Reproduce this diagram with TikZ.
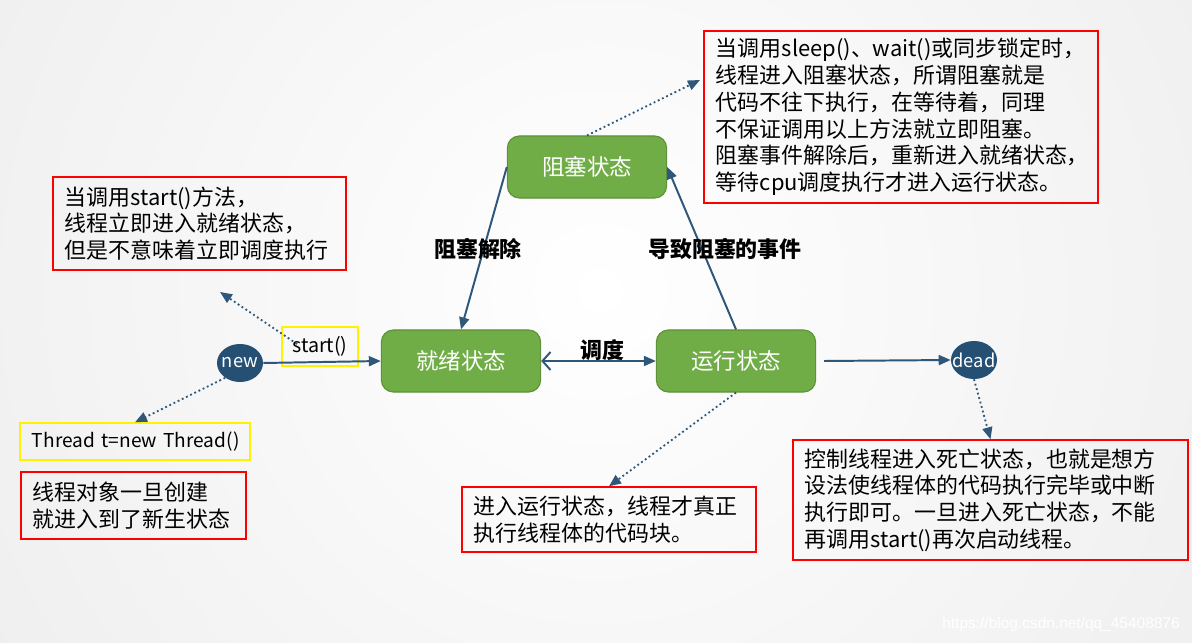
\documentclass[tikz,border=0pt]{standalone}
\usepackage{fontspec}
\setmainfont{Noto Sans CJK SC}
\newfontfamily\wmfont{Liberation Sans}
\usepackage{tikz}
\usetikzlibrary{shapes.geometric,arrows.meta}
\usepackage{xcolor}

\definecolor{stategreen}{HTML}{70AD47}
\definecolor{stateedge}{HTML}{5E9139}
\definecolor{navy}{HTML}{255074}
\definecolor{linkblue}{HTML}{2E5779}
\definecolor{bgray}{HTML}{DBDBDB}

\tikzset{
  state/.style={rectangle, rounded corners=0.3cm, fill=stategreen, draw=stateedge, line width=0.8pt,
    text=white, minimum width=3.98cm, minimum height=1.55cm, font=\fontsize{16}{19}\selectfont},
  endpoint/.style={ellipse, fill=navy, text=white, inner sep=0pt,
    minimum width=1.15cm, minimum height=0.95cm, font=\fontsize{13}{15}\selectfont},
  note/.style={rectangle, draw=red, line width=1pt, align=left, inner xsep=0.3cm,
    font=\fontsize{15.6}{19}\selectfont},
  codebox/.style={rectangle, draw=yellow, line width=1pt, inner xsep=0.3cm,
    font=\fontsize{14}{17}\selectfont},
  flow/.style={draw=linkblue, line width=1.4pt, -{Triangle[length=0.3cm,width=0.25cm]}},
  hint/.style={draw=linkblue, line width=1.3pt, dotted, -{Triangle[length=0.3cm,width=0.25cm]}},
  edgelabel/.style={font=\fontsize{15.6}{19}\selectfont\bfseries}
}

\begin{document}
\begin{tikzpicture}[x=0.025cm, y=-0.025cm]
\useasboundingbox (0,0) rectangle (1192,643);

% background
\begin{scope}
\clip (0,0) rectangle (1192,643);
\fill[bgray] (0,0) rectangle (1192,643);
\shade[inner color=white, outer color=bgray] (600,290) circle [radius=40cm];
\end{scope}

% states
\node[state] (blocked) at (587,167) {阻塞状态};
\node[state] (ready) at (461,361) {就绪状态};
\node[state] (running) at (736,361) {运行状态};
\node[endpoint] (new) at (240,363) {\makebox[0pt]{new}};
\node[endpoint] (dead) at (974,360) {\makebox[0pt]{dead}};

\node[codebox, minimum width=1.9cm, minimum height=0.975cm, inner xsep=0pt] (start) at (320,346.5) {start()};
\node[codebox, text width=5.15cm, minimum height=0.925cm, font=\fontsize{13.6}{17}\selectfont] (thread) at (135,441.5)
  {\mbox{Thread t=new Thread()}};

% notes
\node[note, text width=6.73cm, minimum height=2.325cm] (startnote) at (199.5,223.5)
  {当调用start()方法，\\线程立即进入就绪状态，\\但是不意味着立即调度执行};
\node[note, text width=9.25cm, minimum height=4.3cm] (blockednote) at (901,117)
  {当调用sleep()、wait()或同步锁定时，\\线程进入阻塞状态，所谓阻塞就是\\代码不往下执行，在等待着，同理\\不保证调用以上方法就立即阻塞。\\阻塞事件解除后，重新进入就绪状态，\\等待cpu调度执行才进入运行状态。};
\node[note, text width=5.03cm, minimum height=1.675cm] (newnote) at (133.5,505.5)
  {线程对象一旦创建\\就进入到了新生状态};
\node[note, text width=6.75cm, minimum height=1.625cm] (runnote) at (609,519.5)
  {进入运行状态，线程才真正\\执行线程体的代码块。};
\node[note, text width=9.28cm, minimum height=3cm] (deadnote) at (990.5,500)
  {控制线程进入死亡状态，也就是想方\\设法使线程体的代码执行完毕或中断\\执行即可。一旦进入死亡状态，不能\\再调用start()再次启动线程。};

% transitions
\draw[flow] (new.east) -- (ready.west);
\draw[flow, {Straight Barb[length=0.2cm,width=0.45cm]}-{Triangle[length=0.3cm,width=0.25cm]}] (ready.east) -- (running.west);
\draw[flow] (running.north) -- (blocked.east);
\draw[flow] (blocked.west) -- (ready.north);
\draw[flow] ([xshift=0.2cm]running.east) -- (dead.west);

\node[edgelabel] (sched) at (602,350) {调度};
\node[edgelabel] (unblock) at (478,249) {阻塞解除};
\node[edgelabel] (cause) at (725,249) {导致阻塞的事件};

% hints
\coordinate (bnote-in) at (700,80);
\coordinate (start-out) at (297,344);
\coordinate (snote-in) at (220,292);
\draw[hint] (blocked.north) -- (bnote-in);
\draw[hint] (start-out) -- (snote-in);
\draw[hint] (new.225) -- (thread.north);
\draw[hint] (running.south) -- (runnote.north);
\draw[hint] (dead.south) -- (deadnote.north);

\node[text=white, font=\wmfont\fontsize{11}{13}\selectfont] (mark) at (1061,624) {https://blog.csdn.net/qq\_45408876};
\end{tikzpicture}
\end{document}
